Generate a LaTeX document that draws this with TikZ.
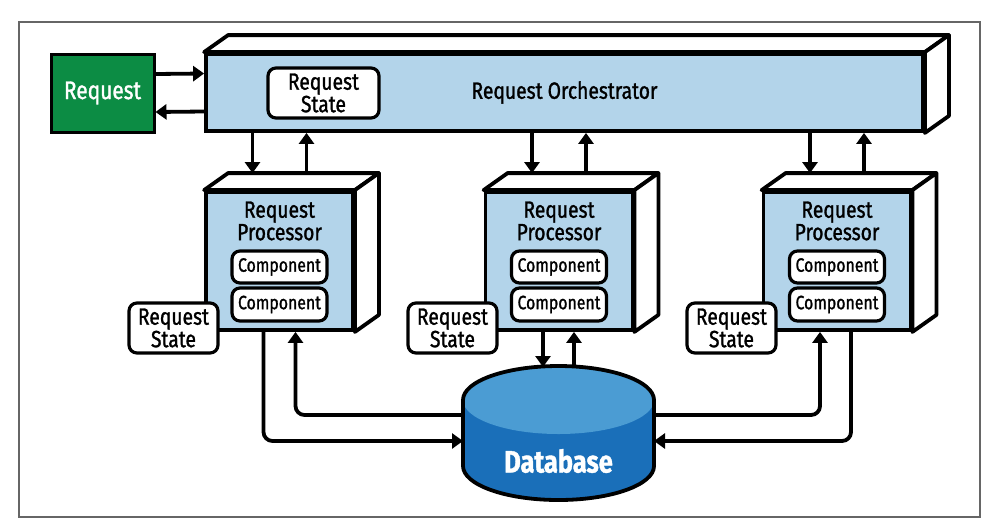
\documentclass[tikz,border=0pt]{standalone}
\usepackage{fontspec}
\setmainfont{Fira Sans}[FakeStretch=0.82,FakeBold=1.2]
\usetikzlibrary{arrows.meta,positioning}
\definecolor{faceblue}{HTML}{B3D4EA}
\definecolor{reqgreen}{HTML}{0C8C44}
\definecolor{dbtop}{HTML}{4B9CD3}
\definecolor{dbbody}{HTML}{1A6FB9}
\definecolor{framegray}{HTML}{666666}

\begin{document}
\begin{tikzpicture}[x=1pt,y=-1pt,
            face/.style={draw,line width=3.8pt,fill=faceblue,inner sep=0pt},
            side/.style={draw,line width=3.8pt,fill=white,line join=round},
            pill/.style={draw,line width=3.2pt,fill=white,rounded corners=8pt,align=center,inner sep=0pt},
            txt/.style={font=\fontsize{23.5}{22.5}\selectfont,align=center},
            arr/.style={line width=3.8pt,-{Triangle[length=11pt,width=15pt]}}
        ]
            \useasboundingbox (0,0) rectangle (992,531);
            \draw[framegray,line width=1.3pt] (19,22) rectangle (980,517);

            % orchestrator and request
            \node[draw,line width=3pt,fill=reqgreen,text=white,minimum width=103,minimum height=78,
                  font=\fontsize{25.5}{25}\selectfont] (req) at (102.5,93) {Request};
            \node[face,txt,minimum width=717,minimum height=77] (orch) at (564.5,92.5) {Request Orchestrator};
            \node[pill,txt,minimum width=111,minimum height=50] (ostate) at (323.5,93) {Request\\State};

            % processors
            \foreach \i/\x in {1/279.5,2/559,3/837} {
                \node[face,minimum width=147,minimum height=138] (proc\i) at (\x,261) {};
                \node[txt] (ptitle\i) at (\x,221) {Request\\Processor};
                \node[pill,minimum width=95,minimum height=32,font=\fontsize{19.3}{19}\selectfont] (comp\i a) at (\x,267) {Component};
                \node[pill,minimum width=95,minimum height=33,font=\fontsize{19.3}{19}\selectfont] (comp\i b) at (\x,304.5) {Component};
            }

            \foreach \n in {orch,proc1,proc2,proc3} {
                \draw[side] (\n.north west) -- ++(24,-17) -- ([shift={(24,-17)}]\n.north east) -- (\n.north east) -- cycle;
                \draw[side] (\n.north east) -- ++(24,-17) -- ([shift={(24,-17)}]\n.south east) -- (\n.south east) -- cycle;
            }

            \node[pill,txt,minimum width=89,minimum height=50] (pstate1) at (173.5,328) {Request\\State};
            \node[pill,txt,minimum width=89,minimum height=50] (pstate2) at (452.5,328) {Request\\State};
            \node[pill,txt,minimum width=89,minimum height=50] (pstate3) at (731.5,328) {Request\\State};

            % database
            \fill[dbbody] (463,400) -- (463,466) arc[start angle=180,end angle=0,x radius=95.5,y radius=34] -- (654,400) -- cycle;
            \fill[dbtop] (558.5,400) ellipse[x radius=95.5,y radius=34];
            \draw[line width=3.8pt] (463,466) -- (463,400) arc[start angle=180,end angle=360,x radius=95.5,y radius=34]
                -- (654,466) arc[start angle=0,end angle=180,x radius=95.5,y radius=34] -- cycle;
            \node[text=white,font=\fontsize{31}{30}\selectfont\bfseries] (db) at (558.5,461) {Database};
            \coordinate (dbw1) at (463,415);
            \coordinate (dbw2) at (463,441);
            \coordinate (dbe1) at (654,415);
            \coordinate (dbe2) at (654,441);
            \coordinate (dbt1) at (543,367);
            \coordinate (dbt2) at (574,366.5);

            % connectors
            \draw[arr] ([yshift=19pt]req.east) -- ([yshift=19pt]orch.west);
            \draw[arr] ([yshift=-19pt]orch.west) -- ([yshift=-19pt]req.east);
            \foreach \i in {1,2,3} {
                \coordinate (in\i) at ([xshift=-27pt,yshift=17pt]proc\i.north);
                \coordinate (out\i) at ([xshift=27pt,yshift=17pt]proc\i.north);
                \draw[arr] (orch.south -| in\i) -- (in\i);
                \draw[arr] (out\i) -- (orch.south -| out\i);
            }
            \draw[arr] (proc2.south -| dbt1) -- (dbt1);
            \draw[arr] (dbt2) -- (proc2.south -| dbt2);
            \begin{scope}[rounded corners=9pt]
                \draw[arr] ([xshift=-16pt]proc1.south) |- (dbw2);
                \draw[arr] (dbw1) -| ([xshift=16pt]proc1.south);
                \draw[arr] (dbe1) -| ([xshift=-17pt]proc3.south);
                \draw[arr] ([xshift=14pt]proc3.south) |- (dbe2);
            \end{scope}
        \end{tikzpicture}
\end{document}
